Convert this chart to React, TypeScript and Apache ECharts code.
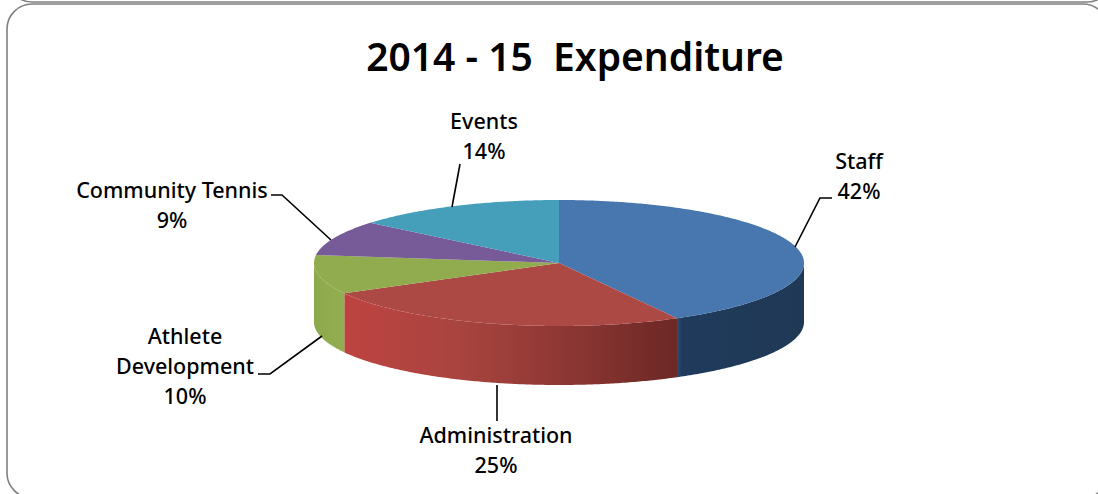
import React, { useEffect, useRef } from "react";
import * as echarts from "echarts";

const TITLE = "2014 - 15  Expenditure";
const categories = ["Staff", "Administration", "Athlete\nDevelopment", "Community Tennis", "Events"];
const values = [42, 25, 10, 9, 14];

const FONT = "'Noto Sans', sans-serif";
const CX = 559, CY = 263, RX = 245, RY = 63, DEPTH = 59;
const topColors = ["#4877AF", "#AD4945", "#90AC4E", "#775A98", "#459FBB"];
const wallStops: [number, string][][] = [
  [[0, "#2C4C70"], [0.04, "#1F3A5C"], [1, "#1F3955"]],
  [[0, "#BE4340"], [0.35, "#A8443F"], [0.7, "#8A3532"], [1, "#6C2825"]],
  [[0, "#8CA94B"], [1, "#93AE50"]],
  [[0, "#6A5088"], [1, "#6A5088"]],
  [[0, "#3E8FA8"], [1, "#3E8FA8"]],
];
const labelPos: [number, number][] = [[859, 175], [496, 449], [185, 365], [172, 204], [484, 135]];
const leaders: number[][][] = [
  [[795, 247], [820, 198], [832, 198]],
  [[497, 385], [497, 421]],
  [[322, 336], [270, 374], [258, 374]],
  [[331, 240], [282, 195], [271, 195]],
  [[452, 207], [460, 164]],
];

const pt = (t: number, dy = 0): number[] => [CX + RX * Math.sin(t), CY - RY * Math.cos(t) + dy];
const arc = (a: number, b: number, dy = 0): number[][] => {
  const n = Math.max(2, Math.ceil(Math.abs(b - a) / 0.01));
  const out: number[][] = [];
  for (let i = 0; i <= n; i++) out.push(pt(a + ((b - a) * i) / n, dy));
  return out;
};
const total = values.reduce((s, v) => s + v, 0);

const renderItem = (params: any, api: any) => {
  const i = params.dataIndex;
  const before = values.slice(0, i).reduce((s, v) => s + v, 0);
  const a = (before / total) * Math.PI * 2;
  const b = ((before + api.value(0)) / total) * Math.PI * 2;
  const children: any[] = [];
  const fa = Math.max(a, Math.PI / 2), fb = Math.min(b, (Math.PI * 3) / 2);
  if (fb > fa) {
    const front = arc(fa, fb);
    const back = arc(fb, fa, DEPTH);
    const xs = front.map((p) => p[0]);
    const x0 = Math.min(...xs), x1 = Math.max(...xs);
    const stops = wallStops[i].map(([o, c]) => ({ offset: o, color: c }));
    children.push({
      type: "polygon",
      shape: { points: front.concat(back) },
      style: { fill: new echarts.graphic.LinearGradient(x0, 0, x1, 0, stops, true) },
    });
  }
  children.push({
    type: "polygon",
    shape: { points: [[CX, CY], ...arc(a, b)] },
    style: { fill: topColors[i] },
  });
  children.push({
    type: "polyline",
    shape: { points: leaders[i] },
    style: { stroke: "#000", lineWidth: 1.6, fill: "none" },
  });
  children.push({
    type: "text",
    x: labelPos[i][0],
    y: labelPos[i][1],
    style: {
      text: `${categories[i]}\n${api.value(0)}%`,
      fill: "#000",
      font: `500 21.5px ${FONT}`,
      lineHeight: 30,
      align: "center",
      verticalAlign: "middle",
    },
  });
  return { type: "group", children };
};

export default function App() {
  const ref = useRef<HTMLDivElement>(null);
  useEffect(() => {
    const chart = echarts.init(ref.current!, undefined, { renderer: "svg" });
    chart.setOption({
      animation: false,
      backgroundColor: "#fff",
      title: {
        text: TITLE,
        left: 570,
        top: 31,
        textAlign: "center",
        textStyle: { fontFamily: FONT, fontSize: 39, fontWeight: 600, color: "#000" },
      },
      graphic: [
        { type: "rect", shape: { x: 7, y: -60, width: 1105, height: 62, r: 25 }, style: { fill: "none", stroke: "#808080", lineWidth: 1.6 } },
        { type: "rect", shape: { x: 7, y: 4, width: 1101, height: 494, r: 25 }, style: { fill: "none", stroke: "#808080", lineWidth: 1.6 } },
      ],
      series: [
        {
          type: "custom",
          coordinateSystem: "none",
          renderItem,
          data: values.map((v, i) => ({ name: categories[i], value: [v] })),
        },
      ],
    });
    return () => chart.dispose();
  }, []);
  return <div ref={ref} style={{ position: "fixed", left: 0, top: 0, width: 1098, height: 494 }} />;
}
